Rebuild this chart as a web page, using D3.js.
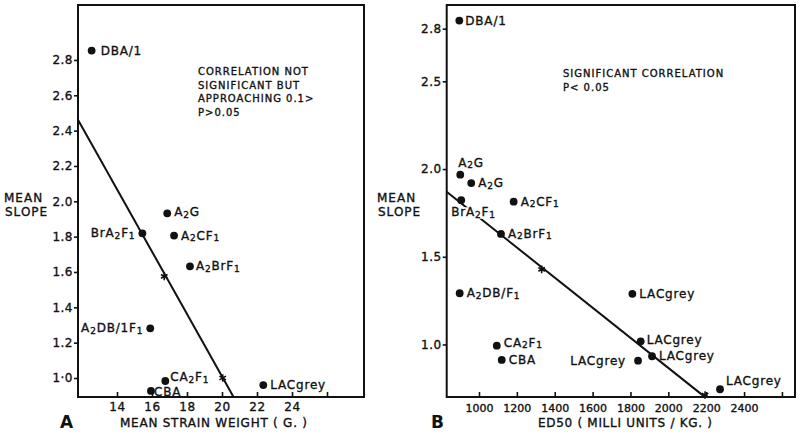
<!DOCTYPE html>
<html><head><meta charset="utf-8">
<script src="https://cdn.jsdelivr.net/npm/d3@7"></script>
<style>body{margin:0;background:#fff}svg{display:block}</style>
</head><body>
<svg id="chart" width="800" height="435"></svg>
<script>
// ---------- Panel A data: mean slope vs mean strain weight ----------
const strainsA = ["DBA/1","A_2G","BrA_2F_1","A_2CF_1","A_2BrF_1","A_2DB/1F_1","CA_2F_1","CBA","LACgrey"];
const weightA  = [12.55, 16.87, 15.45, 17.26, 18.17, 15.90, 16.76, 15.94, 22.36];
const slopeA   = [2.853, 1.932, 1.819, 1.806, 1.632, 1.281, 0.983, 0.927, 0.960];
const fitXA    = [11.77, 20.66];
const fitYA    = [2.462, 0.893];
const starXA   = [16.70, 20.04];
const starYA   = [1.575, 1.000];
const xTicksA  = [14, 16, 18, 20, 22, 24, 26];
const xTickLabelsA = ["14","16","18","20","22","24",""];
const yTicksA  = [1.0, 1.2, 1.4, 1.6, 1.8, 2.0, 2.2, 2.4, 2.6, 2.8];
const yTickLabelsA = ["1·0","1.2","1.4","1.6","1.8","2.0","2.2","2.4","2.6","2.8"];
const noteA = ["CORRELATION NOT","SIGNIFICANT BUT","APPROACHING 0.1>","P>0.05"];

// ---------- Panel B data: mean slope vs ED50 ----------
const strainsB = ["DBA/1","A_2G","A_2G","BrA_2F_1","A_2CF_1","A_2BrF_1","A_2DB/F_1","CA_2F_1","CBA","LACgrey","LACgrey","LACgrey","LACgrey","LACgrey"];
const ed50B    = [896, 901, 959, 906, 1183, 1116, 898, 1094, 1120, 1810, 1854, 1840, 1914, 2273];
const slopeB   = [2.846, 1.968, 1.920, 1.822, 1.814, 1.630, 1.292, 0.993, 0.912, 1.289, 1.018, 0.908, 0.933, 0.745];
const fitXB    = [829, 2194];
const fitYB    = [1.871, 0.700];
const starXB   = [1331, 2194];
const starYB   = [1.428, 0.712];
const xTicksB  = [1000, 1200, 1400, 1600, 1800, 2000, 2200, 2400, 2600];
const xTickLabelsB = ["1000","1200","1400","1600","1800","2000","2200","2400",""];
const yTicksB  = [1.0, 1.5, 2.0, 2.5, 2.8];
const yTickLabelsB = ["1.0","1.5","2.0","2.5","2.8"];
const noteB = ["SIGNIFICANT CORRELATION","P< 0.05"];

// ---------- layout (not data) ----------
const FONT = "'DejaVu Sans', sans-serif";
const INK = "#111";
const svg = d3.select("#chart");

// label placement: [dx, dy, anchor, whiteBackground]
const placeA = [[9,4,"start"],[7,3,"start"],[-7,4,"end"],[7,4,"start"],[6,4,"start"],[-7,4,"end"],[5,0,"start"],[3,5,"start"],[7,4,"start"]];
const placeB = [[6,4,"start"],[-2,-8,"start"],[7,4,"start"],[-10,16,"start",true],[7,4,"start"],[7,4,"start"],[7,4,"start"],[7,1,"start"],[7,4,"start"],[7,4,"start"],[6,3,"start"],[-12,4,"end"],[7,4,"start"],[6,-4,"start"]];

function ink(sel) {
  return sel.attr("fill", INK).attr("stroke", INK).attr("stroke-width", 0.35);
}

function addLabel(g, name, x, y, anchor, bg) {
  const t = g.append("text").attr("x", x).attr("y", y)
    .attr("text-anchor", anchor).attr("font-family", FONT)
    .attr("font-size", 12).attr("letter-spacing", 0.8);
  ink(t);
  const parts = name.split("_");
  parts.forEach((p, i) => {
    if (i === 0) { if (p) t.append("tspan").text(p); return; }
    t.append("tspan").attr("font-size", 9).attr("dy", 1.5).text(p[0]);
    if (p.length > 1) t.append("tspan").attr("dy", -1.5).text(p.slice(1));
  });
  if (bg) {
    const b = t.node().getBBox();
    g.insert("rect", () => t.node()).attr("x", b.x - 1).attr("y", b.y + 2)
      .attr("width", b.width + 2).attr("height", b.height - 3).attr("fill", "#fff");
  }
}

function panel(o) {
  const g = svg.append("g");
  const x = d3.scaleLinear().domain(o.xDom).range([o.left, o.right]);
  const y = d3.scaleLinear().domain(o.yDom).range([o.bottom, o.top]);

  // fit line
  g.append("path").datum(o.fitX.map((v, i) => [v, o.fitY[i]]))
    .attr("d", d3.line().x(d => x(d[0])).y(d => y(d[1])))
    .attr("fill", "none").attr("stroke", INK).attr("stroke-width", 2);
  // stars on fit line
  g.selectAll(".star").data(o.starX).join("path")
    .attr("transform", (d, i) => `translate(${x(d)},${y(o.starY[i])})`)
    .attr("d", d3.symbol(d3.symbolAsterisk, 40)())
    .attr("fill", "none").attr("stroke", INK).attr("stroke-width", 1.6);
  // points
  g.selectAll(".pt").data(o.xs).join("circle")
    .attr("cx", d => x(d)).attr("cy", (d, i) => y(o.ys[i]))
    .attr("r", 3.9).attr("fill", INK);
  // labels
  o.names.forEach((n, i) => {
    const p = o.place[i];
    addLabel(g, n, x(o.xs[i]) + p[0], y(o.ys[i]) + p[1], p[2], p[3]);
  });

  // frame
  g.append("rect").attr("x", o.left).attr("y", o.top)
    .attr("width", o.right - o.left).attr("height", o.bottom - o.top)
    .attr("fill", "none").attr("stroke", INK).attr("stroke-width", 2);

  // axes
  const ax = g.append("g").attr("transform", `translate(0,${o.bottom})`)
    .call(d3.axisBottom(x).tickValues(o.xTicks).tickFormat((d, i) => o.xLabels[i])
      .tickSize(-5).tickSizeOuter(0).tickPadding(o.xPad));
  const ay = g.append("g").attr("transform", `translate(${o.left},0)`)
    .call(d3.axisLeft(y).tickValues(o.yTicks).tickFormat((d, i) => o.yLabels[i])
      .tickSize(4).tickSizeOuter(0).tickPadding(1));
  [ax, ay].forEach(a => {
    a.select(".domain").remove();
    a.selectAll("line").attr("stroke", INK).attr("stroke-width", 1.6);
  });
  ink(ay.selectAll("text").attr("font-family", FONT).attr("font-size", 12).attr("letter-spacing", 0.5));
  ink(ax.selectAll("text").attr("font-family", FONT).attr("font-size", o.xFont).attr("letter-spacing", o.xSpacing));

  // y title
  ink(g.append("text").attr("x", o.yTitleX).attr("y", 202).attr("font-family", FONT)
    .attr("font-size", 12).attr("letter-spacing", 1).text("MEAN"));
  ink(g.append("text").attr("x", o.yTitleX + 1).attr("y", 216).attr("font-family", FONT)
    .attr("font-size", 12).attr("letter-spacing", 1).text("SLOPE"));
  // x title
  ink(g.append("text").attr("x", o.xTitleX).attr("y", 427).attr("font-family", FONT)
    .attr("font-size", 12).attr("textLength", o.xTitleLen).attr("lengthAdjust", "spacing")
    .text(o.xTitle));
  // panel letter
  g.append("text").attr("x", o.letterX).attr("y", 428).attr("font-family", FONT)
    .attr("font-size", 17).attr("font-weight", "bold").attr("fill", INK).text(o.letter);
  // note
  o.note.forEach((s, i) => {
    ink(g.append("text").attr("x", o.noteX).attr("y", o.noteY + i * 13.6)
      .attr("font-family", FONT).attr("font-size", 10).attr("letter-spacing", 1)
      .text(s));
  });
}

panel({
  left: 78, right: 364, top: 5, bottom: 397,
  xDom: [11.771, 28.114], yDom: [0.8925, 3.111],
  names: strainsA, xs: weightA, ys: slopeA, place: placeA,
  fitX: fitXA, fitY: fitYA, starX: starXA, starY: starYA,
  xTicks: xTicksA, xLabels: xTickLabelsA, yTicks: yTicksA, yLabels: yTickLabelsA,
  xPad: 5.5, xFont: 12, xSpacing: 0.5, yTitleX: 4, xTitleX: 120, xTitleLen: 187,
  xTitle: "MEAN STRAIN WEIGHT ( G. )", letter: "A", letterX: 60,
  note: noteA, noteX: 198, noteY: 75
});
panel({
  left: 446.7, right: 795, top: 5, bottom: 397,
  xDom: [829.4, 2669], yDom: [0.7007, 2.935],
  names: strainsB, xs: ed50B, ys: slopeB, place: placeB,
  fitX: fitXB, fitY: fitYB, starX: starXB, starY: starYB,
  xTicks: xTicksB, xLabels: xTickLabelsB, yTicks: yTicksB, yLabels: yTickLabelsB,
  xPad: 7, xFont: 11, xSpacing: 0, yTitleX: 377, xTitleX: 538, xTitleLen: 174,
  xTitle: "ED50 ( MILLI UNITS / KG. )", letter: "B", letterX: 431,
  note: noteB, noteX: 563, noteY: 77
});
</script>
</body></html>
